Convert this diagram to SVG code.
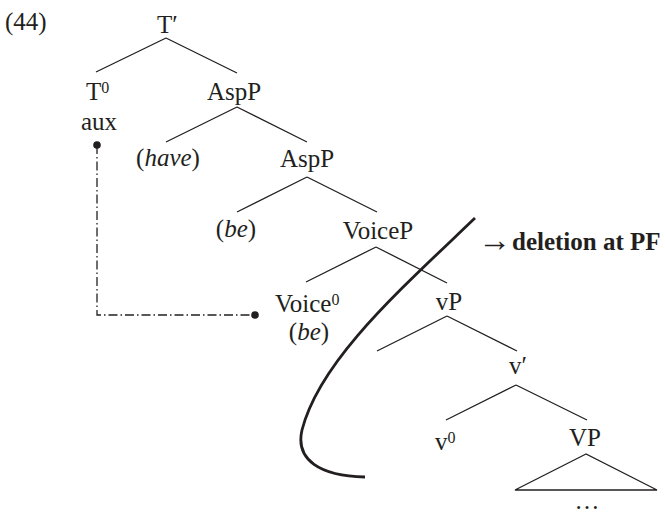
<svg xmlns="http://www.w3.org/2000/svg" width="665" height="514" viewBox="0 0 665 514">
<style>
text{font-family:"Liberation Serif","Times New Roman",serif;font-size:25px;fill:#231f20}
.m{text-anchor:middle}
.sup{font-size:16px}
.b{font-weight:bold}
.e{stroke:#231f20;stroke-width:1.3;fill:none}
.dd{stroke:#231f20;stroke-width:1.3;fill:none;stroke-dasharray:9 3 1.5 3}
</style>
<rect width="665" height="514" fill="#fff"/>
<text x="5" y="30">(44)</text>
<g id="connectors">
<path class="e" d="M166,38 L96,72 M166,38 L237,73"/>
<path class="e" d="M237,107 L166,142 M237,107 L307,142"/>
<path class="e" d="M307,177 L237,212 M307,177 L377,212"/>
<path class="e" d="M376,247 L306,282 M376,247 L447,283"/>
<path class="e" d="M447,316 L377,351 M447,316 L517,351"/>
<path class="e" d="M516,385 L446,420 M516,385 L587,420"/>
<path class="e" d="M586,454 L515,490 L657,490 Z"/>
<path class="dd" d="M97,145 L97,315 L255,315"/>
<circle cx="97" cy="145" r="3.8" fill="#231f20"/>
<circle cx="255" cy="315" r="3.8" fill="#231f20"/>
</g>
<g id="Tbar"><text x="157" y="33">T′</text></g>
<g id="T0"><text x="86" y="100">T<tspan class="sup" dy="-7">0</tspan></text><text class="m" x="99" y="130">aux</text></g>
<g id="AspP1"><text class="m" x="234" y="100">AspP</text></g>
<g id="have"><text class="m" x="168" y="166">(<tspan font-style="italic">have</tspan>)</text></g>
<g id="AspP2"><text class="m" x="307" y="167">AspP</text></g>
<g id="be1"><text class="m" x="236" y="237">(<tspan font-style="italic">be</tspan>)</text></g>
<g id="VoiceP"><text class="m" x="378" y="239">VoiceP</text></g>
<g id="Voice0"><text x="275" y="312">Voice<tspan class="sup" dy="-7">0</tspan></text><text class="m" x="309" y="340">(<tspan font-style="italic">be</tspan>)</text></g>
<g id="vP"><text class="m" x="449" y="310">vP</text></g>
<g id="vbar"><text x="509" y="374">v′</text></g>
<g id="v0"><text x="435" y="450">v<tspan class="sup" dy="-7">0</tspan></text></g>
<g id="VP"><text class="m" x="585" y="446">VP</text><text class="m" x="587" y="509">…</text></g>
<g id="deletion">
<path d="M475,218 C400,290 320,360 302,430 C295,460 320,476 365,477" fill="none" stroke="#231f20" stroke-width="2.8"/>
<text x="478" y="251"><tspan font-size="33">→</tspan><tspan class="b" x="512" y="250">deletion at PF</tspan></text>
</g>
</svg>
